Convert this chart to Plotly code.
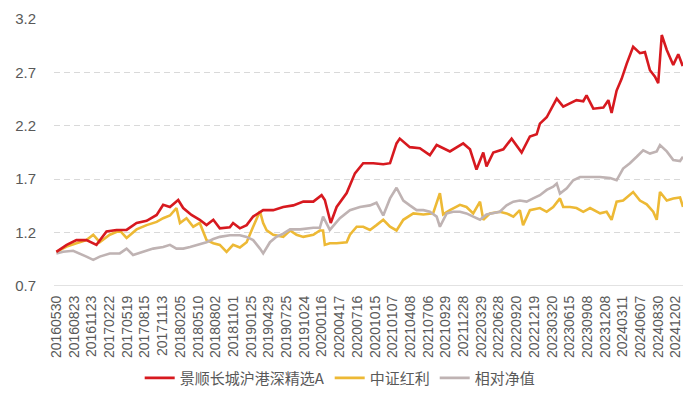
import plotly.graph_objects as go

# x-axis tick labels (every 60 trading days)
tick_labels = ["20160530", "20160823", "20161123", "20170222", "20170519", "20170815",
               "20171113", "20180205", "20180510", "20180802", "20181101", "20190125",
               "20190429", "20190725", "20191024", "20200116", "20200417", "20200716",
               "20201015", "20210107", "20210408", "20210706", "20210929", "20211228",
               "20220329", "20220628", "20220920", "20221219", "20230320", "20230615",
               "20230908", "20231208", "20240311", "20240607", "20240830", "20241202"]
TICK_STEP = 60  # trading days between labels

# 景顺长城沪港深精选A  (trading-day index, value)
fund_day = [0, 35, 68, 102, 136, 170, 204, 238, 272, 306, 340, 362, 385, 413, 430, 458, 486,
            509, 532, 554, 588, 599, 622, 645, 667, 701, 735, 769, 803, 837, 871, 899, 910,
            930, 950, 984, 1012, 1040, 1074, 1108, 1131, 1153, 1164, 1198, 1232, 1266, 1289,
            1334, 1379, 1402, 1424, 1447, 1458, 1481, 1515, 1543, 1577, 1605, 1628, 1639,
            1662, 1696, 1718, 1741, 1763, 1786, 1797, 1820, 1854, 1871, 1882, 1899, 1916,
            1933, 1955, 1978, 1995, 2012, 2029, 2040, 2052, 2069, 2091, 2108, 2123]
fund_val = [1.02, 1.085, 1.13, 1.13, 1.085, 1.21, 1.225, 1.225, 1.29, 1.31, 1.365, 1.46,
            1.44, 1.505, 1.43, 1.365, 1.32, 1.27, 1.32, 1.24, 1.25, 1.29, 1.24, 1.27, 1.35,
            1.41, 1.41, 1.44, 1.455, 1.49, 1.49, 1.55, 1.505, 1.29, 1.44, 1.57, 1.755, 1.85,
            1.85, 1.84, 1.85, 2.035, 2.08, 2.0, 1.99, 1.925, 2.02, 1.96, 2.035, 1.98, 1.79,
            1.95, 1.82, 1.95, 1.98, 2.08, 1.95, 2.1, 2.12, 2.22, 2.28, 2.455, 2.38, 2.41,
            2.44, 2.43, 2.485, 2.36, 2.37, 2.44, 2.32, 2.53, 2.64, 2.78, 2.94, 2.88, 2.89,
            2.72, 2.66, 2.60, 3.05, 2.91, 2.77, 2.87, 2.76]

# 中证红利
index_day = [0, 35, 68, 102, 125, 147, 181, 215, 238, 272, 306, 340, 362, 385, 407, 419,
             441, 464, 486, 509, 532, 554, 577, 599, 622, 645, 667, 690, 701, 713, 735, 769,
             792, 814, 837, 871, 893, 904, 910, 927, 950, 984, 995, 1018, 1040, 1063, 1085,
             1108, 1131, 1153, 1176, 1210, 1244, 1277, 1300, 1311, 1334, 1368, 1390, 1413,
             1436, 1447, 1470, 1503, 1526, 1549, 1571, 1582, 1605, 1639, 1662, 1684, 1707,
             1718, 1741, 1763, 1786, 1809, 1843, 1865, 1882, 1899, 1921, 1944, 1955, 1978,
             2001, 2023, 2035, 2046, 2069, 2091, 2114, 2124]
index_val = [1.02, 1.07, 1.10, 1.13, 1.18, 1.11, 1.18, 1.22, 1.15, 1.23, 1.27, 1.30, 1.335,
             1.36, 1.43, 1.29, 1.335, 1.255, 1.29, 1.13, 1.10, 1.085, 1.02, 1.085, 1.06,
             1.11, 1.255, 1.40, 1.29, 1.22, 1.18, 1.16, 1.22, 1.18, 1.16, 1.18, 1.22, 1.22,
             1.085, 1.10, 1.10, 1.11, 1.18, 1.255, 1.255, 1.225, 1.27, 1.32, 1.255, 1.22,
             1.32, 1.38, 1.37, 1.38, 1.57, 1.37, 1.41, 1.46, 1.44, 1.38, 1.49, 1.32, 1.38,
             1.395, 1.38, 1.35, 1.41, 1.27, 1.41, 1.43, 1.395, 1.44, 1.52, 1.44, 1.44, 1.43,
             1.395, 1.43, 1.38, 1.395, 1.32, 1.49, 1.50, 1.55, 1.58, 1.50, 1.465, 1.395,
             1.32, 1.58, 1.50, 1.52, 1.53, 1.44]

# 相对净值
rel_day = [0, 23, 57, 80, 102, 125, 147, 181, 215, 238, 260, 294, 328, 362, 385, 407, 430,
           453, 475, 509, 532, 554, 588, 622, 645, 667, 690, 701, 724, 746, 769, 792, 826,
           871, 893, 904, 927, 961, 995, 1029, 1063, 1085, 1108, 1131, 1153, 1176, 1198,
           1221, 1244, 1266, 1289, 1300, 1323, 1345, 1368, 1390, 1413, 1436, 1458, 1481,
           1503, 1526, 1549, 1571, 1594, 1616, 1639, 1662, 1684, 1696, 1707, 1730, 1752,
           1775, 1809, 1843, 1877, 1899, 1921, 1944, 1967, 1989, 2012, 2035, 2046, 2069,
           2091, 2114, 2124]
rel_val = [1.005, 1.02, 1.03, 1.005, 0.975, 0.945, 0.975, 1.005, 1.005, 1.05, 0.99, 1.02,
           1.05, 1.065, 1.085, 1.05, 1.05, 1.065, 1.085, 1.11, 1.14, 1.16, 1.175, 1.175,
           1.16, 1.13, 1.05, 1.005, 1.11, 1.16, 1.19, 1.23, 1.23, 1.245, 1.245, 1.35, 1.225,
           1.335, 1.41, 1.44, 1.455, 1.48, 1.36, 1.52, 1.62, 1.50, 1.455, 1.41, 1.41, 1.395,
           1.35, 1.255, 1.38, 1.395, 1.395, 1.38, 1.35, 1.32, 1.37, 1.38, 1.395, 1.455,
           1.49, 1.50, 1.49, 1.52, 1.55, 1.60, 1.63, 1.66, 1.565, 1.615, 1.69, 1.72, 1.72,
           1.72, 1.71, 1.69, 1.80, 1.85, 1.91, 1.97, 1.94, 1.96, 2.02, 1.96, 1.88, 1.87,
           1.91]

names = ["景顺长城沪港深精选A", "中证红利", "相对净值"]
colors = ["#D7191F", "#EDB935", "#BFB3B3"]
series = [(fund_day, fund_val), (index_day, index_val), (rel_day, rel_val)]
legend_ranks = [1, 2, 3]
draw_order = [1, 2, 0]  # fund drawn on top

fig = go.Figure()
for k in draw_order:
    days, vals = series[k]
    fig.add_trace(go.Scatter(x=days, y=vals, mode="lines", name=names[k],
                             legendrank=legend_ranks[k],
                             line=dict(color=colors[k], width=2.6)))

fig.update_layout(
    width=683, height=401,
    margin=dict(l=54, r=0, t=19, b=115, autoexpand=False),
    paper_bgcolor="white", plot_bgcolor="white",
    showlegend=True,
    legend=dict(orientation="h", x=0.455, xanchor="center", y=-0.345, yanchor="middle",
                font=dict(family="Noto Sans CJK SC", size=15, color="#595959"),
                itemwidth=30),
    font=dict(family="Liberation Sans, Arial", color="#595959"),
)
fig.update_xaxes(
    range=[-8, 2124],
    tickmode="array",
    tickvals=[i * TICK_STEP for i in range(len(tick_labels))],
    ticktext=tick_labels,
    tickangle=-90,
    tickfont=dict(family="Liberation Sans, Arial", size=14, color="#595959"),
    showgrid=False, zeroline=False,
    showline=False, ticks="", automargin=False, ticklabeloverflow="allow",
    ticklabelstandoff=6,
)
fig.update_yaxes(
    range=[0.7, 3.2],
    tickmode="array",
    tickvals=[0.7, 1.2, 1.7, 2.2, 2.7, 3.2],
    ticktext=["0.7", "1.2", "1.7", "2.2", "2.7", "3.2"],
    tickfont=dict(family="Liberation Sans, Arial", size=15, color="#595959"),
    showgrid=True, gridcolor="#D9D9D9", gridwidth=1, griddash="6px,4px",
    zeroline=False, showline=False, ticks="", ticklabelstandoff=17,
    automargin=False, ticklabeloverflow="allow",
)
# solid baseline at 0.7
fig.add_shape(type="line", xref="paper", yref="y", x0=0, x1=1, y0=0.7, y1=0.7,
              line=dict(color="#D9D9D9", width=1.5), layer="below")

fig.write_html("out.html",
               config={"displayModeBar": False},
               post_script="document.body.style.margin='0';document.body.style.overflow='hidden';")
